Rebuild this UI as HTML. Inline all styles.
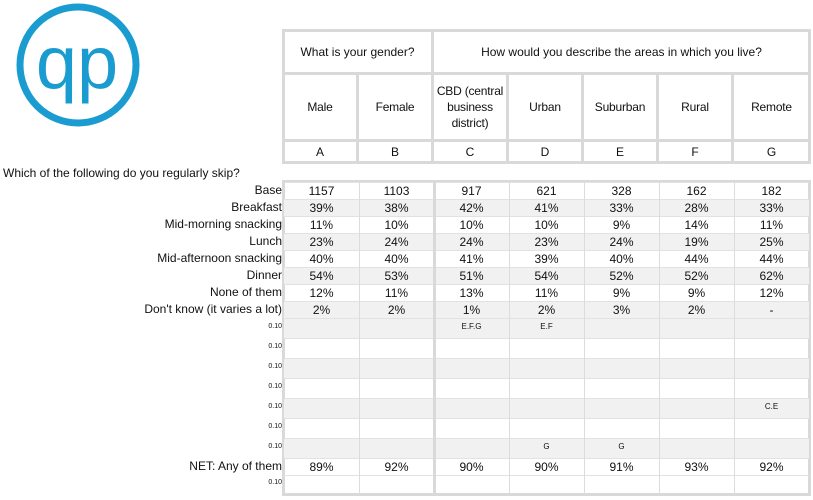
<!DOCTYPE html>
<html><head><meta charset="utf-8"><style>
body{margin:0;width:813px;height:500px;background:#fff;font-family:"Liberation Sans",Arial,sans-serif;font-size:12px;color:#111;position:relative;overflow:hidden}
.a{position:absolute;box-sizing:border-box}
.c{display:flex;align-items:center;justify-content:center;text-align:center}
.r{text-align:right}
</style></head><body>
<svg class="a" style="left:10px;top:0px" width="140" height="132">
<circle cx="68" cy="65" r="58" fill="none" stroke="#1b9cd1" stroke-width="7"/>
<text x="67" y="88" text-anchor="middle" font-family="Liberation Sans, sans-serif" font-size="74" fill="#1b9cd1">qp</text>
</svg>
<div class="a" style="left:3px;top:166px">Which of the following do you regularly skip?</div>
<script>
const cols=["Male","Female","CBD (central business district)","Urban","Suburban","Rural","Remote"];
const letters=["A","B","C","D","E","F","G"];
const rowLabels=["Base","Breakfast","Mid-morning snacking","Lunch","Mid-afternoon snacking","Dinner","None of them","Don't know (it varies a lot)"];
const rowValues=[
["1157","1103","917","621","328","162","182"],
["39%","38%","42%","41%","33%","28%","33%"],
["11%","10%","10%","10%","9%","14%","11%"],
["23%","24%","24%","23%","24%","19%","25%"],
["40%","40%","41%","39%","40%","44%","44%"],
["54%","53%","51%","54%","52%","52%","62%"],
["12%","11%","13%","11%","9%","9%","12%"],
["2%","2%","1%","2%","3%","2%","-"]];
const sigRows=[["","","E.F.G","E.F","","",""],["","","","","","",""],["","","","","","",""],["","","","","","",""],["","","","","","","C.E"],["","","","","","",""],["","","","G","G","",""]];
const netValues=["89%","92%","90%","90%","91%","93%","92%"];
const X0=284,W=75;
function add(html){document.body.insertAdjacentHTML('beforeend',html);return document.body.lastElementChild;}
let f=add(`<div class="a" style="left:${X0-2}px;top:29px;width:${7*W+4}px;height:135px;border:3px solid #d9d9d9"></div>`);


let g=add(`<div class="a c" style="left:${X0}px;top:31px;width:${2*W}px;height:44px;border-right:3px solid #d9d9d9;border-bottom:3px solid #d9d9d9">What is your gender?</div>`);


let ar=add(`<div class="a c" style="left:${X0+2*W}px;top:31px;width:${5*W}px;height:44px;border-bottom:3px solid #d9d9d9">How would you describe the areas in which you live?</div>`);


cols.forEach((c,i)=>{
 let e=add(`<div class="a c" style="left:${X0+i*W}px;top:75px;width:${W}px;height:67px;padding:0;letter-spacing:-0.2px;line-height:16px;border-right:${i<6?3:0}px solid #d9d9d9;border-bottom:3px solid #d9d9d9">${c}</div>`);
 
 
 let l=add(`<div class="a c" style="left:${X0+i*W}px;top:142px;width:${W}px;height:20px;border-right:${i<6?3:0}px solid #d9d9d9">${letters[i]}</div>`);
 
 
});
let bf=add(`<div class="a" style="left:${X0-2}px;top:180px;width:${7*W+4}px;height:316px;border:3px solid #d9d9d9"></div>`);


function row(y,h,label,vals,shade,small,name){
 if(shade){let s=add(`<div class="a" style="left:${X0}px;top:${y}px;width:${7*W}px;height:${h}px;background:#f1f1f1"></div>`);
  
  }
 let lb=add(`<div class="a r" style="left:0;top:${y}px;width:${X0-2}px;height:${h}px;line-height:${small?h-2:h}px;font-size:${small?7:12}px">${label}</div>`);
 
 
 vals.forEach((v,i)=>{
  let c=add(`<div class="a" style="left:${X0+i*W}px;top:${y}px;width:${W}px;height:${h}px;text-align:center;line-height:${small?h-4:h}px;font-size:${small?8:12}px;border-top:1px solid #e2e2e2">${v}</div>`);
  
  
 });
}
rowLabels.forEach((lab,k)=>row(182+k*17,17,lab,rowValues[k],k%2==1,false,'row-'+k));
sigRows.forEach((s,k)=>row(318+k*20,20,"0.10",s,k%2==0,true,'sig-row-'+k));
row(458,17,"NET: Any of them",netValues,false,false,'net-row');
row(475,18,"0.10",["","","","","","",""],false,true,'net-sig-row');
for(let i=1;i<7;i++){
 let v=add(`<div class="a" style="left:${X0+i*W-(i==2?1:0)}px;top:182px;width:${i==2?3:1}px;height:312px;background:${i==2?'#d9d9d9':'#dcdcdc'}"></div>`);
 
 
}
</script>
</body></html>
